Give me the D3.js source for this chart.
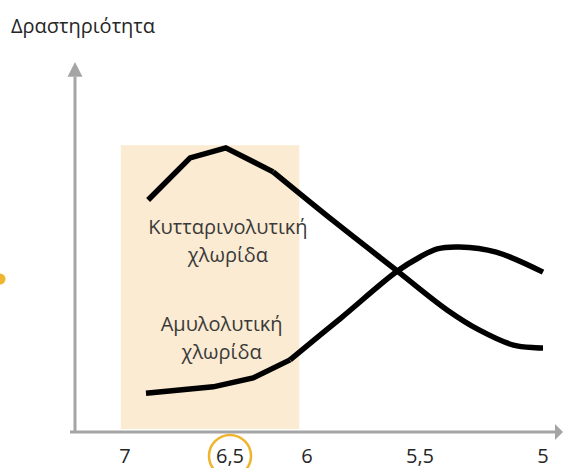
<!DOCTYPE html>
<html lang="el">
<head>
  <meta charset="UTF-8">
  <title>Δραστηριότητα χλωρίδας ανά pH</title>
  <script src="https://d3js.org/d3.v7.min.js"></script>
  <style>
    body { margin: 0; background: #fff; }
    svg { display: block; font-family: "Open Sans", sans-serif; }
  </style>
</head>
<body>
<svg width="563" height="468"></svg>

<script>
  // Τιμές pH στον άξονα x
  const phTicks = [7, 6.5, 6, 5.5, 5];
  const tickLabels = ["7", "6,5", "6", "5,5", "5"];
  const highlightTick = 6.5;

  // Κυτταρινολυτική χλωρίδα (pH, δραστηριότητα)
  const celluPh  = [6.89, 6.69, 6.52, 6.22, 5.88, 5.60, 5.39, 5.26, 5.12, 5.0];
  const celluAct = [6.27, 7.41, 7.68, 7.03, 5.69, 4.35, 3.30, 2.76, 2.35, 2.27];

  // Αμυλολυτική χλωρίδα
  const amyloPh  = [6.90, 6.58, 6.35, 6.11, 5.85, 5.60, 5.50, 5.43, 5.34, 5.19, 5.0];
  const amyloAct = [1.05, 1.22, 1.46, 1.95, 3.08, 4.35, 4.73, 4.95, 5.00, 4.86, 4.32];

  // ως εδώ η γραμμή είναι τεθλασμένη, μετά ομαλή
  const breakPh = [6.22, 6.11];

  // Ζώνη pH που τονίζεται
  const bandPh = [7.02, 6.05];
  const bandTop = 7.75;

  const labels = [
    { lines: ["Κυτταρινολυτική", "χλωρίδα"], ph: 6.51, act: 5.35 },
    { lines: ["Αμυλολυτική", "χλωρίδα"], ph: 6.54, act: 2.74 }
  ];

  const svg = d3.select("svg");
  const axisColor = "#a5a5a5";

  // ο άξονας x δεν είναι ισαπέχων στην εικόνα
  const x = d3.scaleLinear().domain(phTicks).range([125, 230, 307, 420, 543]);
  const y = d3.scaleLinear().domain([0, 10]).range([432, 62]);

  // ζώνη
  svg.append("rect")
    .attr("x", x(bandPh[0]))
    .attr("y", y(bandTop))
    .attr("width", x(bandPh[1]) - x(bandPh[0]))
    .attr("height", y(0.08) - y(bandTop))
    .attr("fill", "#fbebd2");

  // άξονες με βέλη
  svg.append("line")
    .attr("x1", 75).attr("y1", y(0))
    .attr("x2", 75).attr("y2", y(9.6))
    .attr("stroke", axisColor).attr("stroke-width", 3);
  svg.append("path")
    .attr("d", `M75,${y(10)} L67.5,${y(9.6)} L82.5,${y(9.6)} Z`)
    .attr("fill", axisColor);

  svg.append("line")
    .attr("x1", 70).attr("y1", y(0))
    .attr("x2", 556).attr("y2", y(0))
    .attr("stroke", axisColor).attr("stroke-width", 3);
  svg.append("path")
    .attr("d", `M563,${y(0)} L555,${y(0) - 8} L555,${y(0) + 8} Z`)
    .attr("fill", axisColor);

  // ετικέτες άξονα x
  svg.selectAll("text.tick")
    .data(phTicks)
    .join("text")
      .attr("class", "tick")
      .attr("x", d => x(d))
      .attr("y", 463)
      .attr("text-anchor", "middle")
      .attr("font-size", 20)
      .attr("fill", "#262626")
      .text((d, i) => tickLabels[i]);

  svg.append("circle")
    .attr("cx", x(highlightTick))
    .attr("cy", 456)
    .attr("r", 21)
    .attr("fill", "none")
    .attr("stroke", "#efb52e")
    .attr("stroke-width", 2.5);

  // τίτλος άξονα y
  svg.append("text")
    .attr("x", 11).attr("y", 33)
    .attr("font-size", 20)
    .attr("fill", "#262626")
    .text("Δραστηριότητα");

  // καμπύλες: τεθλασμένο κομμάτι + ομαλό κομμάτι
  const straight = d3.line()
    .x(d => x(d[0]))
    .y(d => y(d[1]));
  const smooth = d3.line()
    .x(d => x(d[0]))
    .y(d => y(d[1]))
    .curve(d3.curveCatmullRom.alpha(0.5));

  const series = [
    d3.zip(celluPh, celluAct),
    d3.zip(amyloPh, amyloAct)
  ];

  series.forEach((s, i) => {
    const parts = [
      [straight, s.filter(p => p[0] >= breakPh[i])],
      [smooth, s.filter(p => p[0] <= breakPh[i])]
    ];
    parts.forEach(([gen, pts]) => {
      svg.append("path")
        .attr("d", gen(pts))
        .attr("fill", "none")
        .attr("stroke", "#000")
        .attr("stroke-width", 5.5)
        .attr("stroke-linejoin", "miter");
    });
  });

  // ετικέτες καμπυλών
  labels.forEach(l => {
    const t = svg.append("text")
      .attr("text-anchor", "middle")
      .attr("font-size", 20)
      .attr("fill", "#3a3a3a");
    l.lines.forEach((s, i) => {
      t.append("tspan")
        .attr("x", x(l.ph))
        .attr("y", y(l.act) + i * 28)
        .text(s);
    });
  });

  // κίτρινη κουκκίδα στο αριστερό άκρο
  svg.append("circle")
    .attr("cx", 0).attr("cy", 279).attr("r", 5.5)
    .attr("fill", "#efb52e");
</script>
</body>
</html>
